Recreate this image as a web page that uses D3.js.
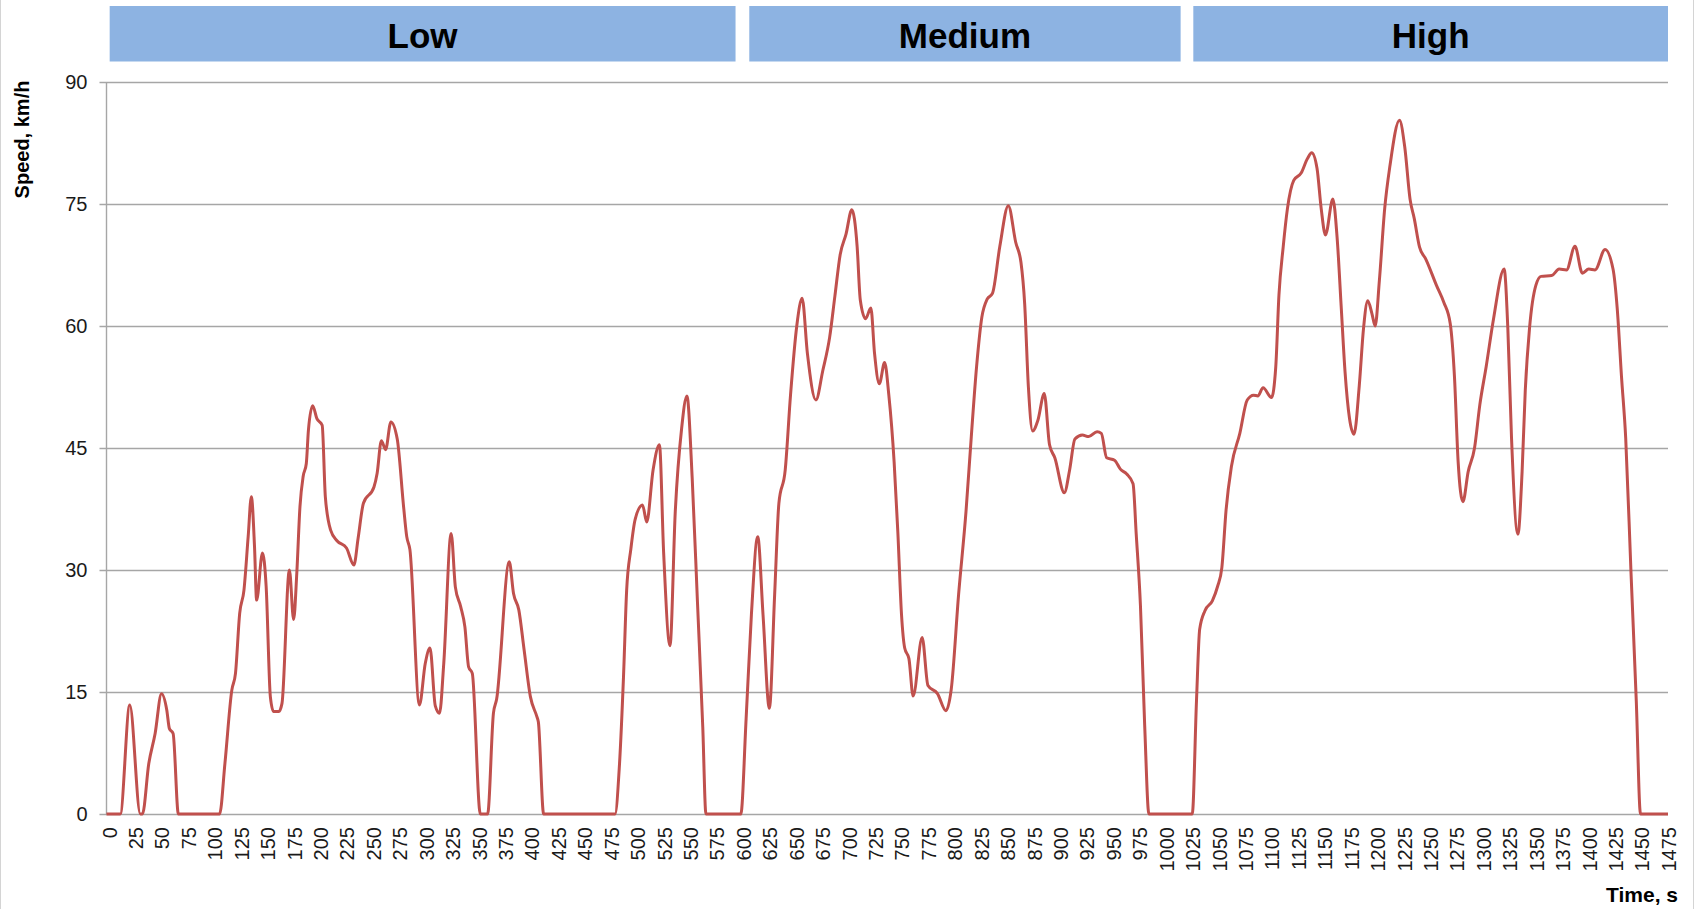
<!DOCTYPE html>
<html>
<head>
<meta charset="utf-8">
<script src="https://cdn.jsdelivr.net/npm/d3@7"></script>
<style>
  html, body { margin: 0; padding: 0; background: #ffffff; }
  svg { display: block; font-family: "Liberation Sans", Arial, sans-serif; }
</style>
</head>
<body>
<svg id="chart" width="1702" height="909"></svg>
<script>
// ---- data ----
const timeS = [
  0, 13, 22, 32, 34, 40, 46, 52, 57, 59.5, 63, 68, 107, 112, 118.5, 122, 126, 130, 134, 137, 140, 142, 147.5, 151, 155, 158, 163, 166,
  173, 177, 180, 183, 186, 189, 191, 195, 199, 204, 207, 212, 218, 227, 234, 238, 243, 253, 256, 260, 264, 269, 275, 281, 284, 287,
  296, 301.5, 306, 311, 315, 319, 326, 330, 335, 339, 342.5, 346, 353.6, 360.5, 366, 369, 381, 385, 390, 395, 401, 407, 408.5, 413.5,
  481, 485, 489, 492, 496, 500, 507, 511, 517, 523, 527, 533, 538, 544, 549, 554, 559, 564, 567, 600,
  605, 610, 616, 621, 627, 632, 636, 642, 647, 653, 658, 663, 671, 677.5, 684, 689, 694, 699.5, 705, 710, 713, 718, 723, 726.5, 731,
  736, 740, 745, 748.5, 752, 755, 759, 763, 771.5, 777, 786, 794, 799, 806, 813, 818, 823, 828, 833, 838, 845, 853, 860, 865, 868.5,
  872, 876, 881, 887, 892, 897, 906, 911, 916, 923, 929, 937, 941, 946, 953.5, 959, 965, 971, 974, 978, 982, 986, 1027,
  1031, 1034, 1039, 1046, 1051, 1055, 1059, 1064, 1072, 1079, 1085, 1089, 1094, 1102, 1106, 1109, 1113, 1117, 1123, 1130, 1136, 1140,
  1145, 1149, 1153, 1160, 1164, 1168, 1171.5, 1180, 1185, 1189, 1193, 1197, 1200, 1204, 1209, 1214, 1223, 1228, 1233, 1237, 1242,
  1248, 1258, 1265, 1271, 1275, 1278.5, 1283, 1288, 1294, 1299, 1305, 1312, 1322, 1325.5, 1329, 1335, 1339, 1342, 1346, 1352, 1357,
  1367, 1374, 1381, 1389, 1396, 1402, 1408, 1417.5, 1425, 1429, 1433, 1437, 1442, 1447, 1451, 1477
];
const speedKmh = [
  0, 0, 13.4, 0, 0, 6.2, 9.9, 14.8, 12.8, 10.5, 9.9, 0, 0, 6.2, 15.2, 17.3, 24.7, 27.5, 34.1, 39.0, 32.9, 26.3, 32.1, 28.0, 14.4, 12.6, 12.6, 13.6,
  30.0, 23.9, 29.6, 37.8, 41.5, 43.1, 47.2, 50.2, 48.6, 47.8, 39.0, 34.9, 33.6, 32.7, 30.6, 33.9, 38.2, 40.2, 41.9, 45.9, 44.8, 48.2, 46.1, 37.8, 34.1, 32.5,
  13.4, 18.5, 20.4, 13.3, 12.4, 18.5, 34.5, 27.9, 25.5, 23.0, 18.1, 17.3, 0, 0, 12.4, 14.1, 31.0, 27.1, 25.1, 20.2, 14.4, 12.0, 11.3, 0,
  0, 5.6, 16.8, 27.5, 32.6, 36.2, 38.0, 35.9, 42.3, 45.4, 32.1, 20.7, 37.2, 47.4, 51.4, 41.3, 26.0, 10.7, 0, 0,
  11.7, 24.5, 34.1, 24.5, 13.0, 27.0, 38.2, 42.3, 51.5, 60.1, 63.4, 56.6, 50.9, 54.5, 58.6, 63.7, 68.8, 71.3, 74.3, 69.8, 63.2, 60.9, 62.2, 56.6, 52.9,
  55.5, 51.5, 43.3, 34.7, 24.5, 20.4, 19.1, 14.5, 21.7, 15.8, 14.8, 12.7, 15.3, 27.0, 37.2, 46.4, 55.0, 61.1, 63.3, 64.0, 69.8, 74.8, 70.3, 67.8, 62.7,
  52.5, 47.1, 48.4, 51.7, 45.4, 43.8, 39.5, 42.3, 46.1, 46.6, 46.4, 47.0, 46.8, 43.8, 43.5, 42.4, 41.8, 40.6, 34.4, 25.6, 10.9, 0, 0,
  13.9, 22.7, 25.0, 26.2, 28.0, 30.3, 37.4, 42.7, 46.8, 50.9, 51.5, 51.4, 52.4, 51.2, 55.0, 63.8, 69.7, 74.4, 77.9, 78.8, 80.6, 81.3,
  79.4, 74.4, 71.2, 75.6, 70.9, 62.1, 54.4, 46.7, 52.7, 59.7, 63.1, 61.5, 60.0, 65.6, 74.4, 79.7, 85.3, 82.0, 75.6, 73.2, 69.7,
  68.2, 65.0, 62.9, 60.3, 53.8, 43.3, 38.4, 42.1, 45.0, 50.3, 55.0, 60.9, 67.0, 59.7, 46.2, 34.4, 42.1, 52.1, 59.7, 65.0, 66.1,
  66.2, 67.0, 66.9, 69.8, 66.5, 67.0, 66.9, 69.4, 67.0, 62.1, 53.8, 46.2, 29.7, 13.9, 0, 0
];
const phaseNames = ["Low", "Medium", "High"];
const phaseStart = [3, 608, 1028];
const phaseEnd = [595, 1016, 1477];
const yTicks = [0, 15, 30, 45, 60, 75, 90];
const xTicks = d3.range(0, 1476, 25);
const xTitle = "Time, s";
const yTitle = "Speed, km/h";

// ---- layout ----
const svg = d3.select("#chart");
const W = 1702, H = 909;
const x = d3.scaleLinear().domain([0, 1477]).range([106.5, 1668]);
const y = d3.scaleLinear().domain([0, 90]).range([814, 82]);

svg.append("rect").attr("x", 0).attr("y", 0).attr("width", W).attr("height", H).attr("fill", "#fff");
// outer frame (left/right edges visible)
svg.append("rect").attr("x", 0.5).attr("y", -2).attr("width", 1693).attr("height", H + 4)
  .attr("fill", "none").attr("stroke", "#d4d4d4").attr("stroke-width", 1);

// phase header boxes
const phases = phaseNames.map((n, i) => ({ name: n, s: phaseStart[i], e: phaseEnd[i] }));
const pg = svg.append("g");
pg.selectAll("rect").data(phases).join("rect")
  .attr("x", d => x(d.s)).attr("y", 6)
  .attr("width", d => x(d.e) - x(d.s)).attr("height", 55.5)
  .attr("fill", "#8db3e2");
pg.selectAll("text").data(phases).join("text")
  .attr("x", d => (x(d.s) + x(d.e)) / 2).attr("y", 48)
  .attr("text-anchor", "middle")
  .attr("font-size", 35).attr("font-weight", "bold").attr("fill", "#000")
  .text(d => d.name);

// gridlines + y axis
const yAxis = d3.axisLeft(y).tickValues(yTicks).tickFormat(d3.format("d"))
  .tickSize(x.range()[1] - x.range()[0] + 7).tickPadding(12);
const gy = svg.append("g").attr("transform", `translate(${x.range()[1]},0)`).call(yAxis);
gy.select(".domain").remove();
gy.selectAll(".tick line").attr("stroke", "#a6a6a6").attr("stroke-width", 1.4);
gy.selectAll(".tick text").attr("font-size", 20).attr("fill", "#1a1a1a")
  .attr("font-family", "'Liberation Sans', Arial, sans-serif");

// vertical axis line
svg.append("line").attr("x1", x(0)).attr("x2", x(0)).attr("y1", y(90)).attr("y2", y(0))
  .attr("stroke", "#a6a6a6").attr("stroke-width", 1.4);

// x axis labels
const xAxis = d3.axisBottom(x).tickValues(xTicks).tickFormat(d3.format("d")).tickSize(0).tickPadding(0);
const gx = svg.append("g").attr("transform", `translate(0,${y(0)})`).call(xAxis);
gx.select(".domain").remove();
gx.selectAll(".tick text")
  .attr("font-size", 20).attr("fill", "#1a1a1a")
  .attr("font-family", "'Liberation Sans', Arial, sans-serif")
  .attr("text-anchor", "end")
  .attr("dy", null)
  .attr("transform", "translate(2.5,13) rotate(-90)")
  .attr("x", 0).attr("y", 0)
  .attr("dominant-baseline", "central");

// axis titles
svg.append("text").attr("transform", "translate(22,139.5) rotate(-90)")
  .attr("text-anchor", "middle").attr("dominant-baseline", "central")
  .attr("font-size", 20).attr("font-weight", "bold").attr("fill", "#000").text(yTitle);
svg.append("text").attr("x", 1678).attr("y", 902)
  .attr("text-anchor", "end")
  .attr("font-size", 21).attr("font-weight", "bold").attr("fill", "#000").text(xTitle);

// speed line
const pts = timeS.map((t, i) => [t, speedKmh[i]]);
const line = d3.line().x(d => x(d[0])).y(d => y(d[1])).curve(d3.curveMonotoneX);
svg.append("path").datum(pts).attr("d", line)
  .attr("fill", "none").attr("stroke", "#c0504d").attr("stroke-width", 3)
  .attr("stroke-linejoin", "round");
</script>
</body>
</html>
